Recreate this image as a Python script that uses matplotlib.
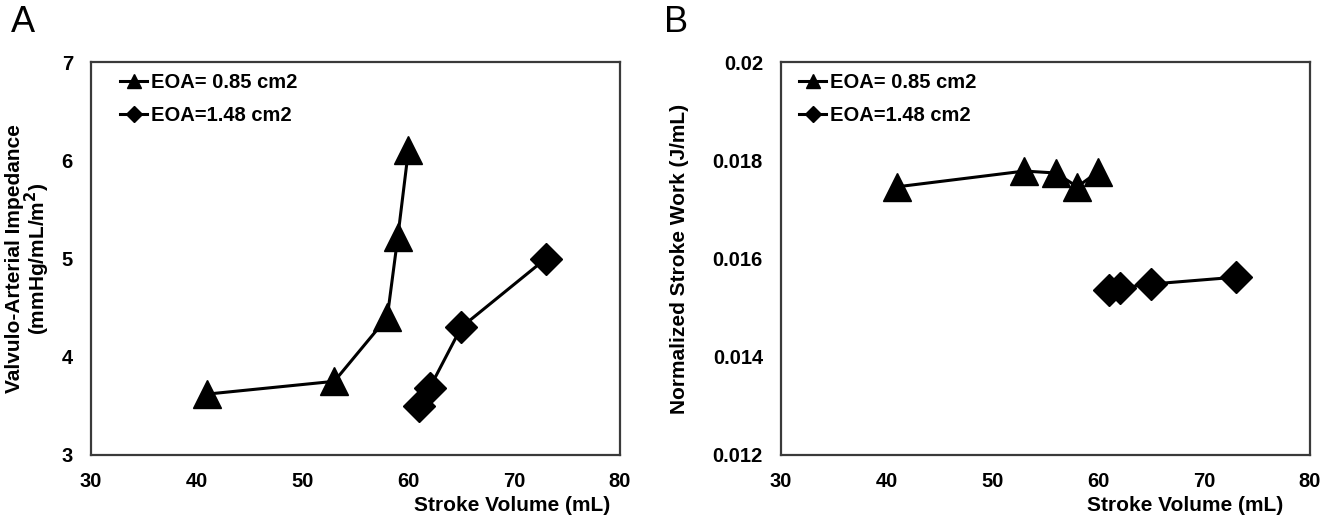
import matplotlib.pyplot as plt

plt.rcParams['font.family'] = ['Liberation Sans', 'DejaVu Sans']

# panel A: valvulo-arterial impedance vs stroke volume
sv_a_small = [41, 53, 58, 59, 60]
zva_small = [3.62, 3.75, 4.40, 5.22, 6.10]
sv_a_large = [61, 62, 65, 73]
zva_large = [3.50, 3.68, 4.30, 5.00]

# panel B: normalized stroke work vs stroke volume
sv_b_small = [41, 53, 56, 58, 60]
nsw_small = [0.01746, 0.01778, 0.01774, 0.01746, 0.01777]
sv_b_large = [61, 62, 65, 73]
nsw_large = [0.01535, 0.01540, 0.01548, 0.01562]

labels = ['EOA= 0.85 cm2', 'EOA=1.48 cm2']

W, H = 1332, 516
fig = plt.figure(figsize=(W / 100, H / 100), dpi=100)
ax1 = fig.add_axes([91 / W, 1 - 455 / H, 529 / W, 393 / H])
ax2 = fig.add_axes([781 / W, 1 - 455 / H, 529 / W, 393 / H])


def draw(ax, x1, y1, x2, y2, ylim, yticks, ylabel, ylab_x, xlab_x, leg_x):
    ax.plot(x1, y1, color='black', lw=2.2, marker='^', ms=20, label=labels[0])
    ax.plot(x2, y2, color='black', lw=2.2, marker='D', ms=16, label=labels[1])
    ax.set_xlim(30, 80)
    ax.set_ylim(*ylim)
    ax.set_xticks([30, 40, 50, 60, 70, 80])
    ax.set_yticks(yticks)
    ax.set_yticklabels([f'{v:g}' for v in yticks])
    ax.tick_params(length=0, labelsize=14.5)
    ax.tick_params(axis='x', pad=12)
    ax.tick_params(axis='y', pad=13)
    for t in ax.get_xticklabels() + ax.get_yticklabels():
        t.set_fontweight('bold')
    for s in ax.spines.values():
        s.set_linewidth(1.6)
        s.set_color('#3a3a3a')
    ax.set_xlabel('Stroke Volume (mL)', fontsize=15, fontweight='bold', loc='right')
    ax.xaxis.set_label_coords(xlab_x, -0.104)
    ax.set_ylabel(ylabel, fontsize=15, fontweight='bold', linespacing=0.95)
    ax.yaxis.set_label_coords(ylab_x, 0.5)
    ax.legend(loc='upper left', bbox_to_anchor=(leg_x, 0.972), frameon=False,
              markerscale=0.5, handlelength=1.35, handletextpad=0.2,
              labelspacing=0.7, borderpad=0, borderaxespad=0,
              prop={'weight': 'bold', 'size': 14.5})


draw(ax1, sv_a_small, zva_small, sv_a_large, zva_large, (3, 7), [3, 4, 5, 6, 7],
     'Valvulo-Arterial Impedance\n(mmHg/mL/m$^\\mathbf{2}$)', -0.074, 0.981, 0.055)
draw(ax2, sv_b_small, nsw_small, sv_b_large, nsw_large, (0.012, 0.02),
     [0.012, 0.014, 0.016, 0.018, 0.02], 'Normalized Stroke Work (J/mL)',
     -0.174, 0.949, 0.034)

fig.text(23 / W, 1 - 23 / H, 'A', fontsize=26, ha='center', va='center')
fig.text(676 / W, 1 - 23 / H, 'B', fontsize=26, ha='center', va='center')

fig.savefig('out.png', dpi=100)
